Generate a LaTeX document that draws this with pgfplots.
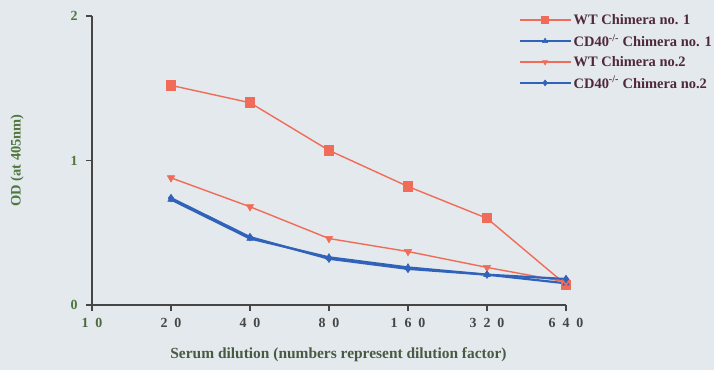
\documentclass[border=0pt]{standalone}
\usepackage{fontspec}
\setmainfont{Liberation Serif}
\usepackage{pgfplots}
\pgfplotsset{compat=1.18}
\definecolor{bg}{RGB}{227,233,236}
\definecolor{wtred}{RGB}{240,108,88}
\definecolor{cdblue}{RGB}{48,98,186}
\definecolor{axgray}{RGB}{70,70,70}
\definecolor{labgreen}{RGB}{78,120,62}
\definecolor{legtext}{RGB}{80,40,60}
\newcommand{\dsp}{\hspace{0.5em}}
\begin{document}
\begin{tikzpicture}
\fill[bg] (-92bp,-65bp) rectangle (622bp,305bp);
\begin{axis}[
 at={(0,0)}, anchor=south west,
 scale only axis, width=474bp, height=289bp,
 xmin=0, xmax=6, ymin=0, ymax=2,
 axis x line*=bottom, axis y line*=left,
 axis line style={axgray, line width=1.2bp},
 xtick={0,1,2,3,4,5,6},
 xticklabels={{\color{labgreen!70!axgray}1\dsp0},2\dsp0,4\dsp0,8\dsp0,1\dsp6\dsp0,3\dsp2\dsp0,6\dsp4\dsp0},
 ytick={0,1,2}, yticklabels={0,1,2},
 tick align=outside, major tick length=6bp,
 tick style={axgray, line width=1.1bp},
 xticklabel style={font=\bfseries\fontsize{14}{16}\selectfont, text=axgray, yshift=-4bp},
 yticklabel style={font=\bfseries\fontsize{14}{16}\selectfont, text=labgreen, xshift=-5bp},
 xlabel={Serum dilution (numbers represent dilution factor)},
 xlabel style={at={(rel axis cs:0.52,0)}, anchor=center, yshift=-50bp, font=\bfseries\fontsize{15.5}{18}\selectfont, text=labgreen!40!axgray},
 ylabel={OD (at 405nm)},
 ylabel style={at={(axis description cs:-0.158,0.5)}, anchor=center, font=\bfseries\fontsize{14.5}{17}\selectfont, text=labgreen},
 legend style={at={(rel axis cs:0.893,1.02)}, anchor=north west, draw=none, fill=none,
   font=\bfseries\fontsize{14.5}{17}\selectfont, text=legtext, row sep=4.5bp},
 legend cell align=left,
 legend image code/.code={\draw[mark repeat=2,mark phase=2,mark size=3bp] plot coordinates {(0cm,0cm)(0.9cm,0cm)(1.8cm,0cm)};},
 clip=false,
]
\addplot[wtred, line width=1.4bp, mark=square*, mark size=4.5bp, mark options={fill=wtred, draw=wtred}]
 coordinates {(1,1.52)(2,1.40)(3,1.07)(4,0.82)(5,0.60)(6,0.14)};
\addlegendentry{WT Chimera no. 1}
\addplot[cdblue, line width=2.2bp, mark=triangle*, mark size=3.8bp, mark options={fill=cdblue, draw=cdblue, line width=0.5bp}]
 coordinates {(1,0.73)(2,0.46)(3,0.33)(4,0.26)(5,0.21)(6,0.15)};
\addlegendentry{CD40\textsuperscript{-/-} Chimera no. 1}
\addplot[wtred, line width=1.4bp, mark=triangle*, mark size=4.3bp, mark options={fill=wtred, draw=wtred, rotate=180, line width=0.5bp}]
 coordinates {(1,0.88)(2,0.68)(3,0.46)(4,0.37)(5,0.26)(6,0.16)};
\addlegendentry{WT Chimera no.2}
\addplot[cdblue, line width=2.2bp, mark=diamond*, mark size=3.8bp, mark options={fill=cdblue, draw=cdblue, line width=0.5bp}]
 coordinates {(1,0.74)(2,0.47)(3,0.32)(4,0.25)(5,0.21)(6,0.18)};
\addlegendentry{CD40\textsuperscript{-/-} Chimera no.2}
\end{axis}
\pgfresetboundingbox
\useasboundingbox (-92bp,-65bp) rectangle (622bp,305bp);
\end{tikzpicture}
\end{document}
